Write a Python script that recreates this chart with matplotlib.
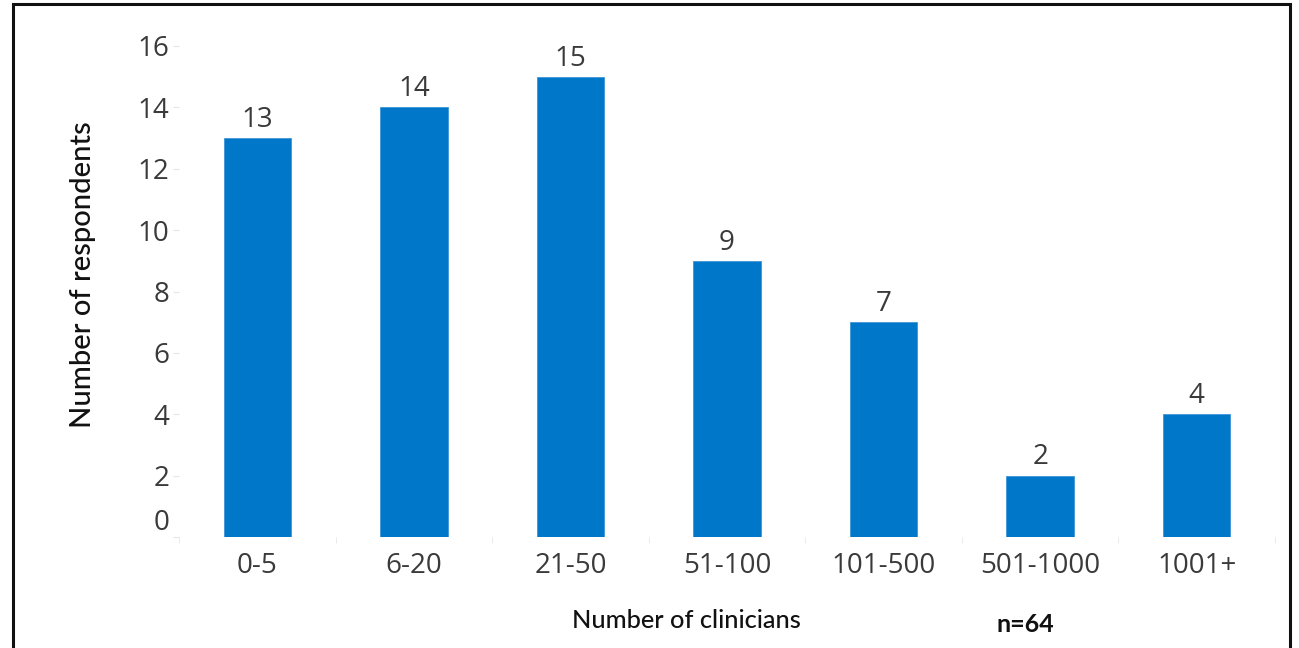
import matplotlib
matplotlib.use("Agg")
import matplotlib.pyplot as plt
import matplotlib.transforms as mtransforms
from matplotlib.patches import Rectangle

categories = ["0-5", "6-20", "21-50", "51-100", "101-500", "501-1000", "1001+"]
values = [13, 14, 15, 9, 7, 2, 4]
yticks = [0, 2, 4, 6, 8, 10, 12, 14, 16]

W, H = 1299, 648
fig = plt.figure(figsize=(W / 100, H / 100), dpi=100)
fig.patch.set_facecolor("white")

# outer frame
fig.patches.append(Rectangle((13 / W, -0.05), (1290 - 13) / W, (H - 4) / H + 0.05,
                             transform=fig.transFigure, fill=False,
                             edgecolor="#111111", linewidth=2.2, zorder=10))

ax = fig.add_axes([179 / W, 111 / H, (1275 - 179) / W, (602 - 111) / H])
x = list(range(len(categories)))
bars = ax.bar(x, values, width=0.43, color="#0077C8", edgecolor="#3C95D6", linewidth=0.6)

ax.set_xlim(-0.5, len(categories) - 0.5)
ax.set_ylim(0, 16)
for s in ax.spines.values():
    s.set_visible(False)

tick_font = dict(family="Open Sans", size=20, color="#3a3a3a")
ax.set_yticks(yticks)
ax.set_yticklabels([str(t) for t in yticks], fontdict=tick_font)
ax.set_xticks(x)
ax.set_xticklabels(categories, fontdict=tick_font)
ax.tick_params(axis="x", length=0, pad=11)
ax.tick_params(axis="y", length=4, color="#e6e6e6", pad=3)

# minor ticks at category boundaries (faint)
ax.set_xticks([i - 0.5 for i in range(len(categories) + 1)], minor=True)
ax.tick_params(axis="x", which="minor", length=4, color="#e6e6e6")

# raise the "0" label as in the reference
lbl0 = ax.get_yticklabels()[0]
lbl0.set_transform(lbl0.get_transform() + mtransforms.ScaledTranslation(0, 17 / 100, fig.dpi_scale_trans))

for xi, v in zip(x, values):
    ax.annotate(str(v), (xi, v), xytext=(0, 3), textcoords="offset points",
                ha="center", va="bottom", **tick_font)

fig.text(83 / W, 1 - 275 / H, "Number of respondents", rotation=90, ha="center", va="center",
         family="Lato", weight="medium", size=21, color="#111111")
fig.text(686 / W, 1 - 620 / H, "Number of clinicians", ha="center", va="center",
         family="Lato", weight="medium", size=18.3, color="#111111")
fig.text(1025 / W, 1 - 625 / H, "n=64", ha="center", va="center",
         family="Lato", weight="bold", size=18, color="#111111")

fig.savefig("out.png", dpi=100, facecolor="white")
